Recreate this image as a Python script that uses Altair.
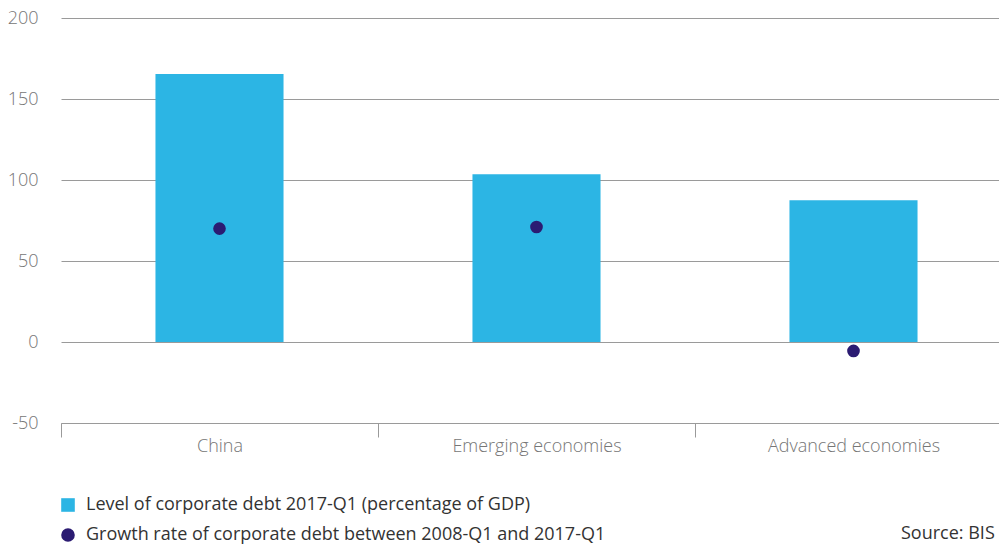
import altair as alt
import pandas as pd

categories = ["China", "Emerging economies", "Advanced economies"]
debt_level = [165.5, 103.5, 87.5]
debt_growth = [70.0, 71.0, -5.5]
series_names = [
    "Level of corporate debt 2017-Q1 (percentage of GDP)",
    "Growth rate of corporate debt between 2008-Q1 and 2017-Q1",
]
y_ticks = [-50, 0, 50, 100, 150, 200]
source_text = ["Source: BIS"]

BAR_COLOR = "#2cb5e4"
DOT_COLOR = "#2b1b72"
FONT = "Open Sans"
AXIS_TEXT = "#767676"
LEGEND_TEXT = "#333333"
GRID = "#9a9a9a"

df_bar = pd.DataFrame({"category": categories, "value": debt_level, "series": series_names[0]})
df_pt = pd.DataFrame({"category": categories, "value": debt_growth, "series": series_names[1]})

x_enc = alt.X(
    "category:N",
    sort=categories,
    scale=alt.Scale(range=[0, 951], paddingInner=0, paddingOuter=0),
    axis=alt.Axis(
        title=None, labelAngle=0, tickBand="extent", tickSize=14, tickColor=GRID,
        domainColor=GRID, labelPadding=0, labelFont=FONT, labelFontSize=18,
        labelFontWeight=300, labelColor=AXIS_TEXT, grid=False, labelBaseline="top",
        labelLimit=0,
    ),
)
y_enc = alt.Y(
    "value:Q",
    scale=alt.Scale(domain=[-50, 200], nice=False, zero=False),
    axis=alt.Axis(
        title=None, values=y_ticks, domain=False, ticks=False, labelPadding=23,
        labelFont=FONT, labelFontSize=18, labelFontWeight=300, labelColor=AXIS_TEXT,
        labelExpr="datum.value + ''",
        gridColor=GRID, gridWidth=1, gridOpacity=1,
    ),
)

legend = alt.Legend(
    title=None, orient="none", legendX=-2, legendY=478, symbolSize=185,
    labelFont=FONT, labelFontSize=18, labelColor=LEGEND_TEXT, rowPadding=12,
    labelOffset=9, symbolStrokeWidth=0, symbolOpacity=1, direction="vertical",
    labelLimit=0,
)
color_scale = alt.Scale(domain=series_names, range=[BAR_COLOR, DOT_COLOR])
shape_scale = alt.Scale(domain=series_names, range=["square", "circle"])

bars = alt.Chart(df_bar).mark_bar(width=alt.RelativeBandSize(0.404)).encode(
    x=x_enc,
    y=y_enc,
    color=alt.Color("series:N", scale=color_scale, legend=legend),
)

points = alt.Chart(df_pt).mark_point(filled=True, size=160, opacity=1).encode(
    x=x_enc,
    y=y_enc,
    color=alt.Color("series:N", scale=color_scale, legend=legend),
    shape=alt.Shape("series:N", scale=shape_scale, legend=legend),
)

source = alt.Chart(pd.DataFrame({"t": source_text})).mark_text(
    align="left", baseline="middle", font=FONT, fontSize=18, color=LEGEND_TEXT
).encode(x=alt.value(840), y=alt.value(516), text="t:N")

chart = alt.layer(bars, points, source).properties(
    width=938, height=405,
    background="white",
    autosize=alt.AutoSizeParams(type="none"),
    padding={"left": 61, "top": 18, "right": 0, "bottom": 121},
).configure_view(strokeWidth=0, stroke="transparent")

chart.save("out.html", embed_options={"renderer": "svg", "actions": False})
